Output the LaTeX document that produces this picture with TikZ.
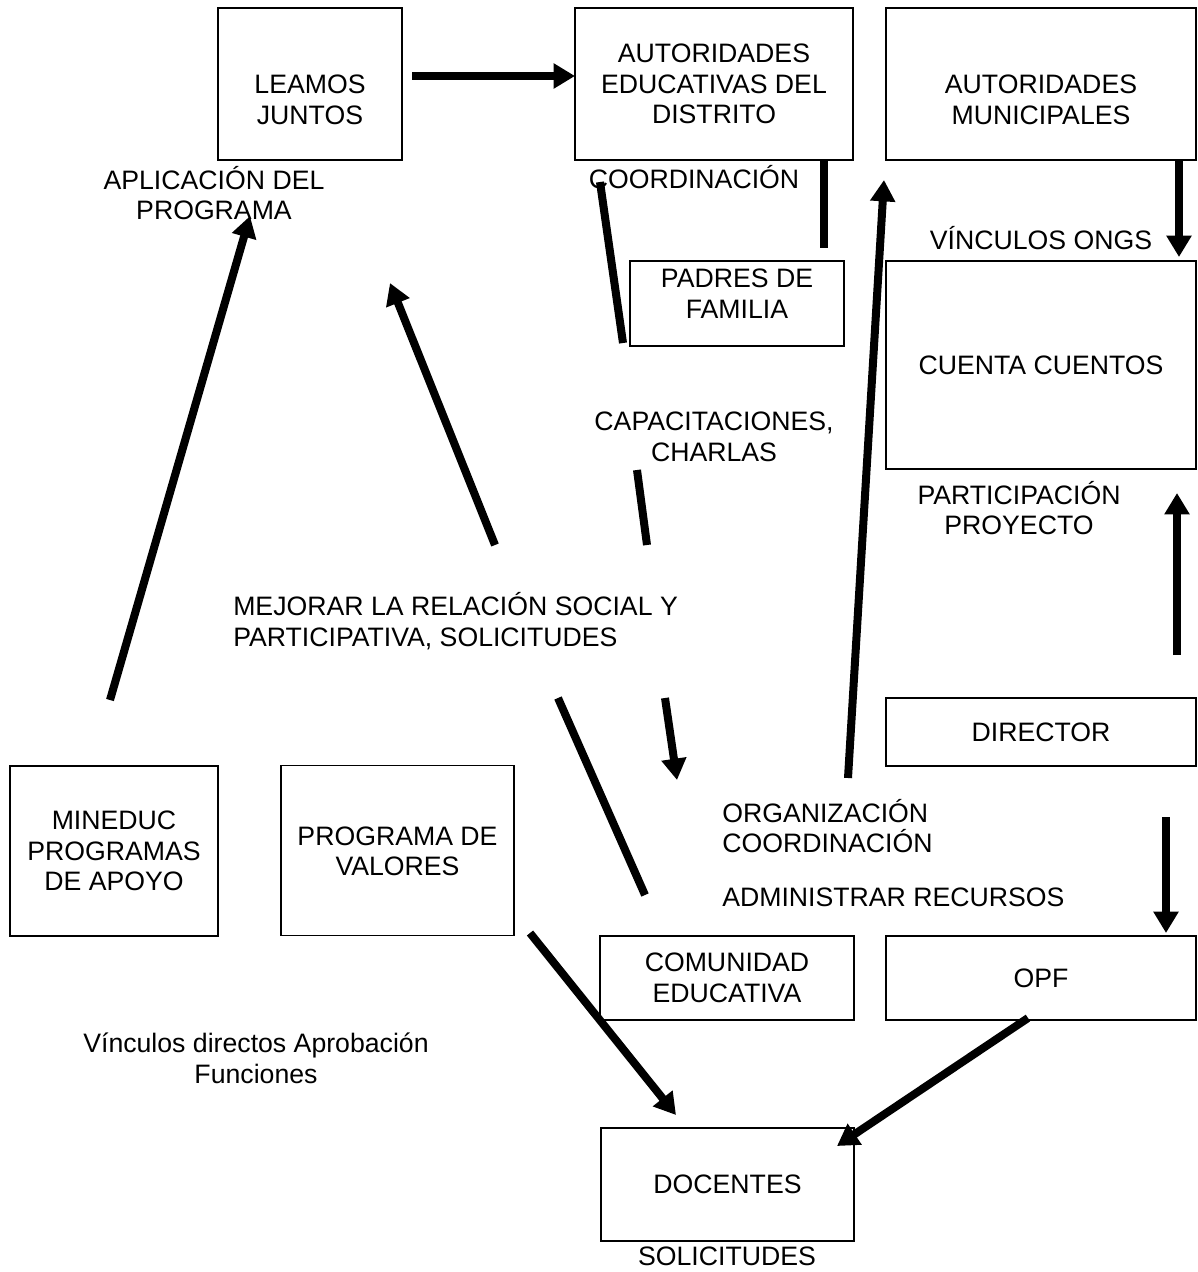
\documentclass[tikz,border=0pt]{standalone}
\usepackage{fontspec}
\setmainfont{Liberation Sans}
\usetikzlibrary{arrows.meta}
\begin{document}
\begin{tikzpicture}[x=0.75pt,y=-0.75pt,
  every node/.style={font=\fontsize{20}{23}\selectfont, align=center, inner sep=0pt},
  box/.style={draw, line width=1.4pt, inner sep=0pt},
  conn/.style={line width=6pt},
  arr/.style={conn, -{Triangle[length=16pt,width=18pt]}},
  lefttext/.style={align=left, anchor=west}]
\useasboundingbox[fill=white] (0,0) rectangle (1197,1272);

% boxes
\node[box, minimum width=138pt, minimum height=114pt,
  label={[yshift=-12pt]center:LEAMOS\\JUNTOS}] (leamos) at (310,84) {};
\node[box, minimum width=208.5pt, minimum height=114pt] (aued) at (714,84)
  {AUTORIDADES\\EDUCATIVAS DEL\\DISTRITO};
\node[box, minimum width=232.5pt, minimum height=114pt,
  label={[yshift=-12pt]center:AUTORIDADES\\MUNICIPALES}] (aumu) at (1041,84) {};
\node[box, minimum width=160.5pt, minimum height=63.75pt,
  label={[yshift=7.5pt]center:PADRES DE\\FAMILIA}] (padres) at (737,303.5) {};
\node[box, minimum width=232.5pt, minimum height=156pt] (cuenta) at (1041,365) {CUENTA CUENTOS};
\node[box, minimum width=232.5pt, minimum height=51pt] (director) at (1041,732) {DIRECTOR};
\node[box, minimum width=156pt, minimum height=127.5pt] (mineduc) at (114,851) {MINEDUC\\PROGRAMAS\\DE APOYO};
\node[box, minimum width=174.75pt, minimum height=127.5pt,
  label={[yshift=-0.5pt]center:PROGRAMA DE\\VALORES}] (valores) at (397.5,850.5) {};
\node[box, minimum width=190.5pt, minimum height=63pt] (comunidad) at (727,978) {COMUNIDAD\\EDUCATIVA};
\node[box, minimum width=232.5pt, minimum height=63pt] (opf) at (1041,978) {OPF};
\node[box, minimum width=189.75pt, minimum height=84.75pt] (docentes) at (727.5,1184.5) {DOCENTES};

% free labels
\node (aplic) at (214,193) {APLICACIÓN DEL\\PROGRAMA};
\node (coord) at (694,177) {COORDINACIÓN};
\node (vinc) at (1041,238) {VÍNCULOS ONGS};
\node (capac) at (714,437) {CAPACITACIONES,\\CHARLAS};
\node (partic) at (1019,508) {PARTICIPACIÓN\\PROYECTO};
\node[lefttext] (mejorar) at (233,621) {MEJORAR LA RELACIÓN SOCIAL Y\\PARTICIPATIVA, SOLICITUDES};
\node[lefttext] (organiz) at (722,826) {ORGANIZACIÓN\\COORDINACIÓN};
\node[lefttext] (admin) at (722,897) {ADMINISTRAR RECURSOS};
\node (vdir) at (256,1058) {Vínculos directos Aprobación\\Funciones};
\node (solic) at (727,1256) {SOLICITUDES};

% connector end points
\coordinate (a1s) at (412,76);   \coordinate (a1e) at (575,76);
\coordinate (l2s) at (600,182);  \coordinate (l2e) at (623,343);
\coordinate (l3s) at (824,160);  \coordinate (l3e) at (824,248);
\coordinate (a4s) at (848,778);  \coordinate (a4e) at (884,180);
\coordinate (a5s) at (1179,160); \coordinate (a5e) at (1179,257);
\coordinate (a6s) at (110,700);  \coordinate (a6e) at (250,216);
\coordinate (a7s) at (495,545);  \coordinate (a7e) at (390,283);
\coordinate (l8s) at (637,470);  \coordinate (l8e) at (647,545);
\coordinate (a9s) at (665,698);  \coordinate (a9e) at (677,780);
\coordinate (l10s) at (558,698); \coordinate (l10e) at (645,895);
\coordinate (a11s) at (1177,655);\coordinate (a11e) at (1177,493);
\coordinate (a12s) at (1166,817);\coordinate (a12e) at (1166,933);
\coordinate (a13s) at (530,933); \coordinate (a13e) at (676,1115);
\coordinate (a14s) at (1028,1018);\coordinate (a14e) at (837,1146);

% connectors
\draw[arr] (a1s) -- (a1e);
\draw[conn] (l2s) -- (l2e);
\draw[conn] (l3s) -- (l3e);
\draw[arr] (a4s) -- (a4e);
\draw[arr] (a5s) -- (a5e);
\draw[arr] (a6s) -- (a6e);
\draw[arr] (a7s) -- (a7e);
\draw[conn] (l8s) -- (l8e);
\draw[arr] (a9s) -- (a9e);
\draw[conn] (l10s) -- (l10e);
\draw[arr] (a11s) -- (a11e);
\draw[arr] (a12s) -- (a12e);
\draw[arr] (a13s) -- (a13e);
\draw[arr] (a14s) -- (a14e);
\end{tikzpicture}
\end{document}
